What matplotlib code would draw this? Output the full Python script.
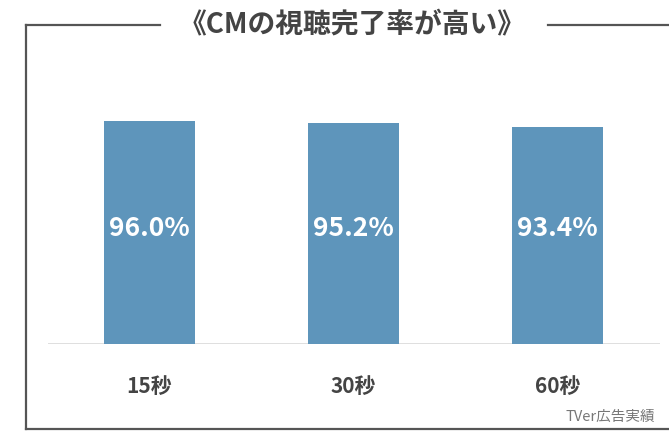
import matplotlib.pyplot as plt
from matplotlib.lines import Line2D

plt.rcParams['font.family'] = ['Noto Sans CJK JP', 'DejaVu Sans']

# --- data ---
categories = ["15秒", "30秒", "60秒"]
rates = [96.0, 95.2, 93.4]
labels = ["96.0%", "95.2%", "93.4%"]

title = "《CMの視聴完了率が高い》"
source = "TVer広告実績"

bar_color = "#5e95bb"
text_color = "#444444"
frame_color = "#555555"

W, H = 669, 433
fig = plt.figure(figsize=(W / 100, H / 100), dpi=100)
fig.patch.set_facecolor("white")

ax = fig.add_axes([47.5 / W, 89 / H, 612 / W, 232 / H])
x = range(len(categories))
ax.bar(x, rates, width=0.45, color=bar_color, zorder=2)
for xi, lab in zip(x, labels):
    ax.text(xi, 50, lab, ha="center", va="center", color="white",
            fontsize=19, fontweight="bold")

ax.set_xlim(-0.5, 2.5)
ax.set_ylim(0, 100)
ax.axhline(0, color="#d9d9d9", lw=1.2, zorder=1)
for s in ax.spines.values():
    s.set_visible(False)
ax.set_yticks([])
ax.set_xticks(list(x))
ax.set_xticklabels(categories, fontsize=15, fontweight="bold", color=text_color)
ax.tick_params(axis="x", length=0, pad=23)

# --- outer frame with title breaking the top line ---
def fx(px):
    return px / W

def fy(py):
    return 1 - py / H

lw = 1.6
fig.add_artist(Line2D([fx(26), fx(26)], [fy(25), fy(429)], color=frame_color, lw=lw))
fig.add_artist(Line2D([fx(26), fx(669)], [fy(429), fy(429)], color=frame_color, lw=lw))
fig.add_artist(Line2D([fx(26), fx(160)], [fy(25), fy(25)], color=frame_color, lw=lw))
fig.add_artist(Line2D([fx(548), fx(669)], [fy(25), fy(25)], color=frame_color, lw=lw))

fig.text(fx(352), fy(24), title, ha="center", va="center", fontsize=20,
         fontweight="bold", color=text_color)
fig.text(fx(655), fy(417), source, ha="right", va="center", fontsize=10.5,
         color="#777777")

fig.savefig("out.png", dpi=100)
